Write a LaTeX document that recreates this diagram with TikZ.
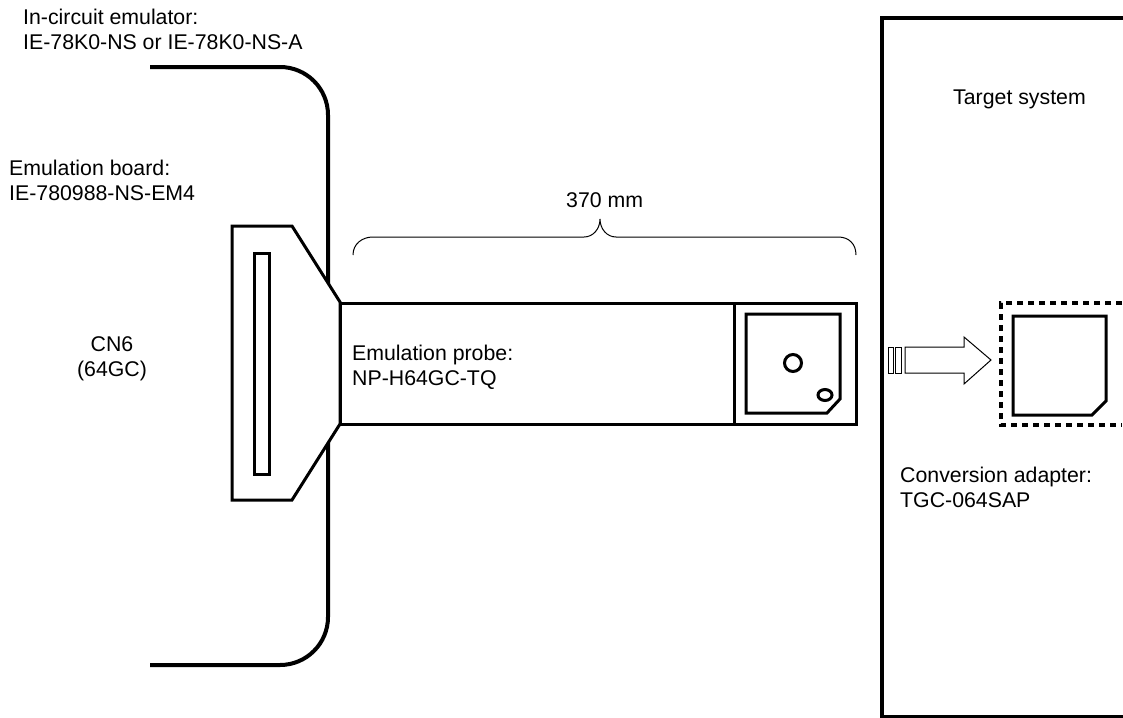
\documentclass[tikz,border=0pt]{standalone}
\usepackage{fontspec}
\setmainfont{Liberation Sans}
\begin{document}
\begin{tikzpicture}[
    x=1pt, y=-1pt,
    heavy/.style={line width=4pt},
    outline/.style={line width=3pt, line join=miter},
    thinline/.style={line width=1pt},
    dotted box/.style={line width=3.4pt, dash pattern=on 6pt off 5pt},
    label/.style={inner sep=0pt, align=left, anchor=north west, font=\fontsize{21.3pt}{25pt}\selectfont}
]
\useasboundingbox (0,0) rectangle (1123,717);
% emulator outline
\draw[heavy] (150,67) -- (280,67) arc[start angle=-90, end angle=0, radius=48] -- (328,617)
    arc[start angle=0, end angle=90, radius=48] -- (150,665);
% connector and probe
\draw[outline, fill=white] (232,226) -- (292,226) -- (340,302) -- (340,424) -- (292,500) -- (232,500) -- cycle;
\draw[outline] (254,253) rectangle (269,474);
\draw[outline] (340,303) rectangle (856,424);
\draw[outline] (734,303) -- (734,424);
\draw[outline] (746,314) -- (840,314) -- (840,399) -- (827,413) -- (746,413) -- cycle;
\draw[outline] (793,363) circle[radius=8.5];
\draw[outline] (825,395) ellipse[x radius=7, y radius=5.5];
% target side
\draw[heavy] (1123,18) -- (882,18) -- (882,717) -- (1123,717);
\draw[dotted box] (1122,303) -- (1001,303) -- (1001,425) -- (1122,425);
\draw[outline] (1013,316) -- (1106,316) -- (1106,401) -- (1092,415) -- (1013,415) -- cycle;
\draw[thinline] (888,347) rectangle (893,373);
\draw[thinline] (895,347) rectangle (901,373);
\draw[thinline] (905,347) -- (964,347) -- (964,337) -- (991,360) -- (964,384) -- (964,373) -- (905,373) -- cycle;
% brace
\draw[thinline] (353,255) .. controls (353,244) and (362,237) .. (373,237) -- (584,237)
    .. controls (593,237) and (600,229) .. (600,219) .. controls (600,229) and (607,237) .. (616,237)
    -- (838,237) .. controls (849,237) and (856,244) .. (856,255);
\node[label] (emulator) at (23,9) {In-circuit emulator:\\IE-78K0-NS or IE-78K0-NS-A};
\node[label] (board) at (9,160) {Emulation board:\\IE-780988-NS-EM4};
\node[label, align=center, anchor=north] (cn) at (112,336) {CN6\\(64GC)};
\node[label] (probe) at (352,345) {Emulation probe:\\NP-H64GC-TQ};
\node[label] (length) at (566,192) {370 mm};
\node[label] (target) at (953,90) {Target system};
\node[label] (adapter) at (900,467) {Conversion adapter:\\TGC-064SAP};
\end{tikzpicture}
\end{document}
